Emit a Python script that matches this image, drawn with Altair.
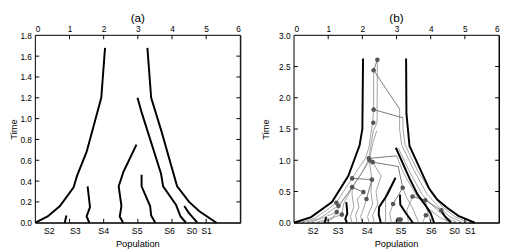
import altair as alt
import pandas as pd

FONT = "Liberation Sans"
W, H = 210, 192

# ---------------- Panel (a) ----------------
A_LINES_X = [
    [0, 0.36, 0.72, 1.12, 1.22, 1.5, 1.93, 2.04],
    [3.28, 3.39, 3.69, 4.15, 4.5, 4.8, 5.3],
    [2.99, 3.12, 3.68, 3.74, 4.12, 4.25, 4.41],
    [4.36, 4.48, 4.74],
    [2.96, 2.58, 2.44, 2.52, 2.47, 2.57],
    [3.11, 3.11, 3.36, 3.39, 3.51],
    [1.53, 1.6, 1.5, 1.58],
    [0.91, 0.86],
]
A_LINES_Y = [
    [0, 0.06, 0.16, 0.34, 0.45, 0.68, 1.2, 1.68],
    [1.68, 1.2, 0.88, 0.35, 0.2, 0.11, 0],
    [1.2, 1.05, 0.47, 0.35, 0.17, 0.06, 0],
    [0.16, 0.1, 0],
    [0.75, 0.49, 0.35, 0.16, 0.06, 0],
    [0.46, 0.35, 0.16, 0.07, 0],
    [0.35, 0.15, 0.06, 0],
    [0.07, 0],
]
A_POP_LABELS = ["S2", "S3", "S4", "S5", "S6", "S0", "S1"]
A_POP_X = [0.41, 1.17, 2.0, 2.98, 3.93, 4.58, 5.01]
A_YTICKS = [0.0, 0.2, 0.4, 0.6, 0.8, 1.0, 1.2, 1.4, 1.6, 1.8]

# ---------------- Panel (b) ----------------
B_THICK_X = [
    [0, 0.5, 1.11, 1.59, 1.92, 2.0, 2.02],
    [3.28, 3.29, 3.38, 3.95, 4.19, 4.48, 4.81, 5.29],
    [2.98, 3.38, 3.62, 3.86, 4.0, 4.1],
    [2.97, 2.72, 2.49, 2.48, 2.54],
    [3.1, 3.11, 3.29, 3.48],
    [1.53, 1.56, 1.5, 1.55],
    [4.3, 4.42, 4.6],
    [0.94, 0.9],
]
B_THICK_Y = [
    [0, 0.09, 0.33, 0.75, 1.24, 1.5, 2.63],
    [2.63, 1.75, 1.23, 0.55, 0.37, 0.24, 0.11, 0],
    [1.2, 0.71, 0.45, 0.27, 0.15, 0],
    [0.72, 0.44, 0.25, 0.13, 0],
    [0.45, 0.29, 0.14, 0],
    [0.33, 0.15, 0.06, 0],
    [0.2, 0.1, 0],
    [0.09, 0],
]
B_THIN_X = [
    [0.15, 0.6, 1.0, 1.24, 1.45, 1.7, 1.95, 2.09, 2.19, 2.3, 2.33, 2.33],
    [0.3, 0.75, 1.1, 1.3, 1.5, 1.7, 1.98, 2.18, 2.32, 2.43, 2.44],
    [0.45, 0.85, 1.25, 1.32, 1.55, 1.75, 2.05, 2.21],
    [0.6, 1.0, 1.4, 1.45, 1.7],
    [0.75, 1.1, 1.25],
    [1.7, 1.65, 1.75, 1.7, 1.7],
    [1.85, 1.8, 1.9, 1.85, 2.03],
    [2.0, 1.95, 2.05, 2.12],
    [2.2, 2.15, 2.3, 2.25, 2.28, 2.2, 2.32, 2.42],
    [2.35, 2.3, 2.45, 2.4, 2.55, 2.3],
    [2.68, 2.68, 2.97],
    [2.85, 2.8, 2.9],
    [3.0, 2.95, 3.06],
    [3.35, 3.3, 3.47],
    [3.65, 3.5, 3.3, 3.18],
    [3.75, 3.86],
    [4.0, 3.9, 3.84],
    [4.5, 4.31],
    [5.1, 4.7, 4.35, 4.05, 3.6, 3.25, 3.19, 3.19],
    [4.95, 4.55, 4.25, 3.9, 3.5, 3.15, 3.09, 3.09],
    [4.8, 4.45, 4.1, 3.75, 3.35, 3.05],
    [4.65, 4.3, 3.95, 3.6, 3.2, 3.0],
]
B_THIN_Y = [
    [0, 0.07, 0.22, 0.32, 0.5, 0.71, 0.92, 1.03, 1.2, 1.6, 1.81, 2.44],
    [0, 0.07, 0.2, 0.27, 0.42, 0.57, 0.8, 1.0, 1.47, 1.6, 2.61],
    [0, 0.08, 0.17, 0.27, 0.45, 0.6, 0.85, 1.0],
    [0, 0.06, 0.13, 0.3, 0.57],
    [0, 0.05, 0.17],
    [0, 0.1, 0.25, 0.45, 0.57],
    [0, 0.12, 0.25, 0.38, 0.49],
    [0, 0.1, 0.25, 0.38],
    [0, 0.1, 0.3, 0.5, 0.69, 1.0, 1.3, 1.47],
    [0, 0.12, 0.3, 0.5, 0.75, 0.97],
    [0, 0.45, 0.72],
    [0, 0.15, 0.3],
    [0, 0.02, 0.05],
    [0, 0.2, 0.42],
    [0, 0.2, 0.4, 0.56],
    [0, 0.12],
    [0, 0.2, 0.36],
    [0, 0.2],
    [0, 0.1, 0.25, 0.45, 0.85, 1.25, 1.5, 1.68],
    [0, 0.1, 0.25, 0.45, 0.85, 1.25, 1.5, 1.82],
    [0, 0.08, 0.25, 0.45, 0.85, 1.2],
    [0, 0.07, 0.22, 0.42, 0.8, 1.07],
]
B_LINK_X = [
    [2.44, 2.33],
    [2.33, 3.09],
    [2.33, 3.19],
    [2.19, 3.0],
    [2.3, 3.05, 3.18],
    [1.7, 2.28],
    [1.7, 2.03],
    [2.12, 2.28],
    [1.24, 1.3],
    [2.9, 3.18],
    [3.47, 3.84],
    [3.84, 4.31],
    [3.06, 3.12],
]
B_LINK_Y = [
    [2.61, 2.44],
    [2.44, 1.82],
    [1.81, 1.68],
    [1.03, 1.07],
    [0.97, 0.9, 0.56],
    [0.71, 0.69],
    [0.57, 0.49],
    [0.38, 0.69],
    [0.32, 0.27],
    [0.3, 0.56],
    [0.42, 0.36],
    [0.36, 0.2],
    [0.05, 0.05],
]
B_PTS_X = [2.44, 2.33, 2.33, 2.32, 2.19, 2.21, 2.3, 1.7, 2.28, 1.7, 2.03, 2.12,
           1.24, 1.3, 1.25, 1.4, 3.18, 2.9, 3.06, 3.12, 3.47, 3.84, 3.86, 4.31]
B_PTS_Y = [2.61, 2.44, 1.81, 1.6, 1.03, 1.0, 0.97, 0.71, 0.69, 0.57, 0.49, 0.38,
           0.32, 0.27, 0.17, 0.13, 0.56, 0.3, 0.05, 0.05, 0.42, 0.36, 0.12, 0.2]
B_POP_LABELS = ["S2", "S3", "S4", "S5", "S6", "S0", "S1"]
B_POP_X = [0.56, 1.29, 2.14, 3.13, 4.02, 4.7, 5.16]
B_YTICKS = [0.0, 0.5, 1.0, 1.5, 2.0, 2.5, 3.0]

X_TICKS = [0, 1, 2, 3, 4, 5, 6]


def lines_df(xs, ys):
    rows = []
    for i, (lx, ly) in enumerate(zip(xs, ys)):
        for k, (x, y) in enumerate(zip(lx, ly)):
            rows.append({"id": i, "k": k, "x": x, "y": y})
    return pd.DataFrame(rows)


def panel(title, ymax, yticks, thick_x, thick_y, pop_labels, pop_x, title_pad,
          thin=None, links=None, pts=None):
    xs = alt.Scale(domain=[0, 6], nice=False, zero=False)
    ys = alt.Scale(domain=[0, ymax], nice=False, zero=True)
    xenc = alt.X("x:Q", scale=xs,
                 axis=alt.Axis(orient="top", values=X_TICKS, title=None, grid=False,
                               domain=False, ticks=False, labelPadding=2,
                               labelFontSize=8.5, labelFont=FONT, labelColor="#000"))
    yenc = alt.Y("y:Q", scale=ys,
                 axis=alt.Axis(orient="left", values=yticks, format=".1f", title="Time",
                               grid=False, domain=False, ticks=False, labelPadding=4,
                               labelFontSize=8.5, labelFont=FONT, labelColor="#000",
                               titleFont=FONT, titleFontSize=9.5, titleFontWeight="normal",
                               titlePadding=title_pad, titleColor="#000"))
    layers = []
    # frame as a white rect with black border, drawn first (beneath the data)
    box = pd.DataFrame({"x": [0], "x2": [6], "y": [0], "y2": [ymax]})
    layers.append(alt.Chart(box).mark_rect(fill="#ffffff", stroke="#000000",
                                           strokeWidth=1)
                  .encode(x=xenc, x2="x2:Q", y=yenc, y2="y2:Q"))
    if thin is not None:
        layers.append(alt.Chart(lines_df(*thin)).mark_line(color="#8a8a8a", strokeWidth=0.8)
                      .encode(x=xenc, y=yenc, detail="id:N", order="k:Q"))
    if links is not None:
        layers.append(alt.Chart(lines_df(*links)).mark_line(color="#555555", strokeWidth=0.8)
                      .encode(x=xenc, y=yenc, detail="id:N", order="k:Q"))
    layers.append(alt.Chart(lines_df(thick_x, thick_y)).mark_line(color="#000000", strokeWidth=2)
                  .encode(x=xenc, y=yenc, detail="id:N", order="k:Q"))
    if pts is not None:
        layers.append(alt.Chart(pd.DataFrame({"x": pts[0], "y": pts[1]}))
                      .mark_circle(color="#555555", size=22, opacity=1)
                      .encode(x=xenc, y=yenc))
    # inward ticks
    xt = pd.DataFrame({"x": X_TICKS[1:-1]})
    yt = pd.DataFrame({"y": yticks[1:-1]})
    layers.append(alt.Chart(xt).mark_rule(color="#000", strokeWidth=1)
                  .encode(x=xenc, y=alt.value(0), y2=alt.value(4)))
    layers.append(alt.Chart(xt).mark_rule(color="#000", strokeWidth=1)
                  .encode(x=xenc, y=alt.value(H), y2=alt.value(H - 4)))
    layers.append(alt.Chart(yt).mark_rule(color="#000", strokeWidth=1)
                  .encode(y=yenc, x=alt.value(0), x2=alt.value(4)))
    layers.append(alt.Chart(yt).mark_rule(color="#000", strokeWidth=1)
                  .encode(y=yenc, x=alt.value(W - 4), x2=alt.value(W)))
    # population labels
    layers.append(alt.Chart(pd.DataFrame({"x": pop_x, "label": pop_labels}))
                  .mark_text(font=FONT, fontSize=9, color="#000", baseline="middle")
                  .encode(x=xenc, y=alt.value(H + 9), text="label:N"))
    layers.append(alt.Chart(pd.DataFrame({"t": ["Population"]}))
                  .mark_text(font=FONT, fontSize=9.5, color="#000", baseline="middle")
                  .encode(x=alt.value(W / 2), y=alt.value(H + 22), text="t:N"))
    return alt.layer(*layers).properties(
        width=W, height=H,
        title=alt.TitleParams(title, font=FONT, fontSize=12, fontWeight="normal",
                              offset=0, color="#000", anchor="middle"))


pa = panel("(a)", 1.8, A_YTICKS, A_LINES_X, A_LINES_Y, A_POP_LABELS, A_POP_X, 1)
pb = panel("(b)", 3.0, B_YTICKS, B_THICK_X, B_THICK_Y, B_POP_LABELS, B_POP_X, 8.5,
           thin=(B_THIN_X, B_THIN_Y), links=(B_LINK_X, B_LINK_Y), pts=(B_PTS_X, B_PTS_Y))

chart = alt.hconcat(pa, pb, spacing=19, padding=0, background="white").configure_view(
    stroke="#000", strokeWidth=1)

chart.save("out.html", embed_options={"renderer": "svg", "actions": False})
